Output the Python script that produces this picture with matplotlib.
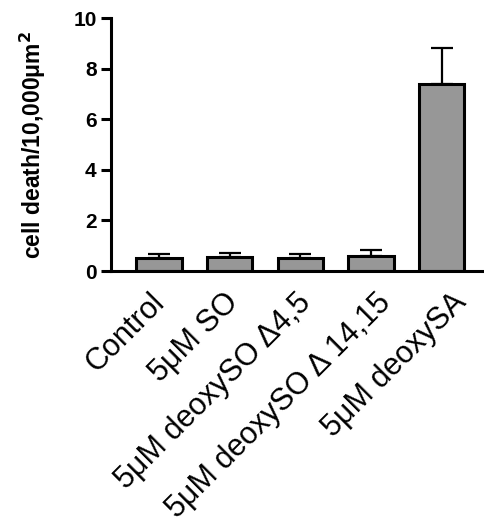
import matplotlib
matplotlib.use("Agg")
import matplotlib.pyplot as plt
import matplotlib.transforms as mtransforms
import numpy as np

categories = ["Control", "5\u03bcM SO", "5\u03bcM deoxySO \u03944,5",
              "5\u03bcM deoxySO \u0394 14,15", "5\u03bcM deoxySA"]
means = [0.53, 0.54, 0.53, 0.58, 7.41]
errors = [0.14, 0.16, 0.13, 0.26, 1.40]
yticks = [0, 2, 4, 6, 8, 10]

plt.rcParams['font.family'] = ['Liberation Sans', 'DejaVu Sans']

fig = plt.figure(figsize=(4.85, 5.25), dpi=100)
ax = fig.add_axes([0.228, 0.4838, 0.772, 0.4819])

x = np.arange(len(categories))
ax.bar(x, means, width=0.64, color="#979797", edgecolor="black", linewidth=2.2, zorder=2)
ax.errorbar(x, means, yerr=[np.zeros(len(errors)), errors], fmt="none",
            ecolor="black", elinewidth=1.6, capsize=8, capthick=1.6, zorder=1)

ax.set_xlim(-0.686, 4.615)
ax.set_ylim(0, 10)
ax.set_yticks(yticks)
ax.set_yticklabels([str(t) for t in yticks], fontsize=15, fontweight="bold")
ax.set_xticks(x)
ax.set_xticklabels([])
ax.tick_params(axis="x", length=0)
ax.tick_params(axis="y", length=7, width=2.2, pad=3)

# rotated category labels, slightly fanned out like the reference (pixel offsets)
label_dx = [1, 4, 6, 15, 20]
label_dy = -27
for xi, lab, ddx in zip(x, categories, label_dx):
    tr = ax.get_xaxis_transform() + mtransforms.ScaledTranslation(
        ddx / 100.0, label_dy / 100.0, fig.dpi_scale_trans)
    ax.text(xi, 0, lab, transform=tr, rotation=45, ha="right", va="center",
            rotation_mode="anchor", fontsize=22, clip_on=False)

for s in ["top", "right"]:
    ax.spines[s].set_visible(False)
for s in ["left", "bottom"]:
    ax.spines[s].set_linewidth(2.2)

ax.set_ylabel("cell death/10,000\u03bcm$^\\mathbf{2}$", fontsize=16.5, fontweight="bold", labelpad=18)

fig.savefig("out.png", dpi=100)
